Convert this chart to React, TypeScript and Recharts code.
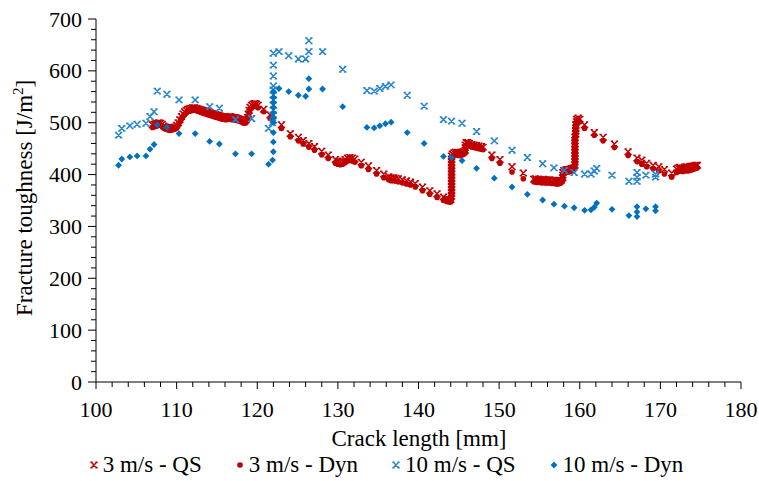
import React from 'react';
import { ScatterChart, Scatter, XAxis, YAxis, Legend } from 'recharts';

const FONT = '"Liberation Serif", "Times New Roman", serif';
const RED = '#C00000';
const BLUE_X = '#2583D2';
const BLUE_D = '#0070C0';

// [crack length mm, fracture toughness J/m2]
const qs3: [number, number][] = [
  [107.0, 496], [107.2, 497], [107.4, 498], [107.6, 499], [107.8, 500], [108.0, 499], [108.2, 497], [108.4, 494],
  [108.6, 492], [108.8, 491], [109.0, 490], [109.2, 490], [109.4, 490], [109.6, 491], [109.8, 492], [110.0, 495],
  [110.2, 500], [110.4, 506], [110.6, 512], [110.8, 517], [111.0, 521], [111.2, 524], [111.4, 526], [111.6, 527],
  [111.8, 528], [112.0, 529], [112.2, 529], [112.4, 528], [112.6, 527], [112.8, 526], [113.0, 525], [113.2, 524],
  [113.4, 523], [113.6, 522], [113.8, 521], [114.0, 520], [114.2, 519], [114.4, 518], [114.6, 517], [114.8, 516],
  [115.0, 515], [115.2, 514], [115.4, 513], [115.6, 512], [115.8, 511], [116.0, 511], [116.2, 511], [116.4, 511],
  [116.6, 512], [116.8, 511], [117.0, 510], [117.2, 510], [117.4, 509], [117.6, 508], [117.8, 507], [118.0, 506],
  [118.2, 505], [118.4, 504], [118.6, 505], [118.8, 510], [118.9, 517], [119.0, 524], [119.1, 530], [119.3, 534],
  [119.5, 536], [119.7, 537], [119.9, 536], [120.1, 534],
  [120.8, 526], [121.6, 515], [123.0, 496], [124.1, 479], [125.1, 472], [125.7, 466], [126.4, 460], [127.1, 454],
  [128.0, 445], [128.8, 438], [129.7, 429], [130.0, 426], [130.3, 425], [130.6, 426], [130.9, 429], [131.2, 432],
  [131.5, 433], [131.8, 432], [132.1, 430], [132.9, 424], [133.8, 417], [134.8, 408], [135.7, 401], [136.3, 396],
  [136.6, 394], [136.9, 394], [137.2, 393], [137.5, 392], [138.0, 390], [138.5, 388], [139.0, 386], [139.6, 383],
  [140.5, 376], [141.4, 369], [142.3, 363], [143.1, 357], [143.5, 353], [143.8, 352], [144.0, 352],
  [144.1, 358], [144.1, 364], [144.1, 370], [144.1, 376], [144.1, 382], [144.1, 388], [144.1, 394], [144.1, 400],
  [144.1, 406], [144.1, 412], [144.1, 418], [144.1, 424], [144.1, 430], [144.1, 436], [144.2, 440], [144.4, 442],
  [144.6, 443], [144.8, 443], [145.0, 442], [145.2, 442], [145.4, 443], [145.6, 444], [145.8, 447], [145.8, 452],
  [145.8, 457], [145.9, 462], [146.1, 462], [146.3, 460], [146.6, 458], [146.9, 457], [147.2, 456], [147.5, 455],
  [147.8, 454], [148.0, 453],
  [149.1, 438], [150.1, 429], [151.6, 415], [153.0, 403],
  [154.3, 391], [154.5, 392], [154.7, 390], [154.9, 391], [155.1, 390], [155.3, 389], [155.5, 391], [155.7, 389],
  [155.9, 390], [156.1, 389], [156.3, 390], [156.5, 388], [156.7, 389], [156.9, 388], [157.1, 387], [157.3, 388],
  [157.5, 388], [157.7, 389], [157.9, 394], [157.9, 399], [157.9, 404], [158.0, 408], [158.2, 409], [158.4, 410],
  [158.6, 410], [158.8, 411], [159.0, 412], [159.2, 413], [159.4, 418], [159.4, 424], [159.4, 430], [159.4, 436],
  [159.4, 442], [159.4, 448], [159.4, 454], [159.4, 460], [159.4, 466], [159.4, 472], [159.5, 478], [159.5, 484],
  [159.5, 490], [159.5, 496], [159.6, 502], [159.6, 507], [159.8, 509], [160.0, 507],
  [160.6, 496], [161.8, 481], [162.9, 472], [164.3, 459], [166.0, 444], [167.1, 432], [167.7, 428], [168.3, 422],
  [169.1, 418], [169.8, 415], [170.5, 410], [171.4, 403],
  [172.0, 411], [172.2, 413], [172.4, 414], [172.6, 413], [172.8, 412], [173.0, 414], [173.2, 415], [173.4, 414],
  [173.6, 415], [173.8, 416], [174.0, 416], [174.2, 417], [174.4, 418], [174.6, 418],
];

const dyn3: [number, number][] = [
  [107.0, 491], [107.2, 492], [107.4, 493], [107.6, 494], [107.8, 495], [108.0, 495], [108.2, 493], [108.4, 490],
  [108.6, 488], [108.8, 487], [109.0, 486], [109.2, 485], [109.4, 486], [109.6, 487], [109.8, 488], [110.0, 490],
  [110.2, 495], [110.4, 501], [110.6, 507], [110.8, 512], [111.0, 516], [111.2, 519], [111.4, 521], [111.6, 522],
  [111.8, 523], [112.0, 524], [112.2, 525], [112.4, 524], [112.6, 522], [112.8, 521], [113.0, 520], [113.2, 519],
  [113.4, 518], [113.6, 517], [113.8, 516], [114.0, 515], [114.2, 514], [114.4, 513], [114.6, 512], [114.8, 511],
  [115.0, 510], [115.2, 509], [115.4, 508], [115.6, 507], [115.8, 507], [116.0, 506], [116.2, 506], [116.4, 507],
  [116.6, 507], [116.8, 506], [117.0, 506], [117.2, 505], [117.4, 505], [117.6, 504], [117.8, 503], [118.0, 502],
  [118.2, 500], [118.4, 499], [118.6, 500], [118.8, 505], [118.9, 512], [119.0, 519], [119.1, 525], [119.3, 529],
  [119.5, 531], [119.7, 532], [119.9, 531], [120.1, 529],
  [120.8, 521], [121.6, 508], [123.0, 489], [124.1, 473], [125.1, 465], [125.7, 459], [126.4, 453], [127.1, 447],
  [128.0, 438], [128.8, 431], [129.7, 422], [130.0, 420], [130.3, 419], [130.6, 420], [130.9, 423], [131.2, 426],
  [131.5, 427], [131.8, 426], [132.1, 424], [132.9, 417], [133.8, 410], [134.8, 401], [135.7, 394], [136.3, 390],
  [136.6, 388], [136.9, 388], [137.2, 387], [137.5, 386], [138.0, 384], [138.5, 382], [139.0, 380], [139.6, 376],
  [140.5, 369], [141.4, 362], [142.3, 356], [143.1, 350], [143.5, 348], [143.8, 347], [144.0, 347],
  [144.1, 353], [144.1, 359], [144.1, 365], [144.1, 371], [144.1, 377], [144.1, 383], [144.1, 389], [144.1, 395],
  [144.1, 401], [144.1, 407], [144.1, 413], [144.1, 419], [144.1, 425], [144.1, 431], [144.2, 435], [144.4, 437],
  [144.6, 438], [144.8, 438], [145.0, 437], [145.2, 437], [145.4, 438], [145.6, 439], [145.8, 442], [145.8, 447],
  [145.8, 452], [145.9, 457], [146.1, 457], [146.3, 455], [146.6, 453], [146.9, 452], [147.2, 451], [147.5, 450],
  [147.8, 449], [148.0, 448],
  [149.1, 431], [150.1, 422], [151.6, 405], [153.0, 392],
  [154.3, 386], [154.5, 386], [154.7, 385], [154.9, 385], [155.1, 385], [155.3, 384], [155.5, 385], [155.7, 384],
  [155.9, 384], [156.1, 384], [156.3, 384], [156.5, 383], [156.7, 383], [156.9, 383], [157.1, 382], [157.3, 382],
  [157.5, 383], [157.7, 384], [157.9, 389], [157.9, 394], [157.9, 399], [158.0, 403], [158.2, 404], [158.4, 405],
  [158.6, 405], [158.8, 406], [159.0, 407], [159.2, 408], [159.4, 413], [159.4, 419], [159.4, 425], [159.4, 431],
  [159.4, 437], [159.4, 443], [159.4, 449], [159.4, 455], [159.4, 461], [159.4, 467], [159.5, 473], [159.5, 479],
  [159.5, 485], [159.5, 491], [159.6, 497], [159.6, 502], [159.8, 504], [160.0, 502],
  [160.6, 489], [161.8, 476], [162.9, 465], [164.3, 452], [166.0, 437], [167.1, 425], [167.7, 420], [168.3, 415],
  [169.1, 411], [169.8, 407], [170.5, 401], [171.4, 395],
  [172.0, 404], [172.2, 406], [172.4, 407], [172.6, 407], [172.8, 406], [173.0, 407], [173.2, 408], [173.4, 407],
  [173.6, 408], [173.8, 409], [174.0, 410], [174.2, 411], [174.4, 412], [174.6, 413],
];

const qs10: [number, number][] = [
  [102.8, 476], [103.2, 489], [104.2, 494], [105.1, 497], [106.2, 499], [106.7, 512], [107.2, 521], [107.6, 561],
  [108.8, 555], [110.3, 544], [112.3, 544], [114.1, 531], [115.3, 528], [117.3, 506], [119.3, 508], [121.4, 489],
  [121.9, 500], [122.0, 505], [122.0, 515], [122.0, 524], [122.0, 534], [122.0, 544], [122.0, 553], [122.0, 563],
  [122.0, 571], [122.0, 590], [122.0, 611], [122.0, 634], [122.7, 637], [123.9, 629], [125.1, 623], [126.0, 623],
  [126.4, 637], [126.4, 658], [128.1, 637], [130.6, 603], [133.6, 562], [134.5, 561], [135.2, 566], [135.9, 570],
  [136.6, 573], [138.6, 553], [140.7, 532], [143.1, 506], [144.1, 503], [145.4, 499], [147.2, 483], [149.4, 465],
  [151.6, 447], [153.5, 433], [155.4, 421], [156.8, 413], [158.1, 408], [159.3, 404], [160.6, 401], [161.4, 401],
  [161.8, 407], [162.1, 412], [164.0, 399], [166.1, 387], [167.1, 404], [167.1, 395], [167.1, 387], [168.2, 399],
  [169.4, 401], [169.4, 395],
];

const dyn10: [number, number][] = [
  [102.8, 418], [103.2, 430], [104.2, 434], [105.1, 436], [106.2, 436], [106.7, 449], [107.2, 458], [107.6, 496],
  [108.8, 491], [110.3, 479], [112.3, 479], [114.1, 464], [115.3, 459], [117.3, 440], [119.3, 440], [121.4, 420],
  [121.9, 428], [122.0, 444], [122.0, 463], [122.0, 481], [122.0, 500], [122.0, 510], [122.0, 519], [122.0, 530],
  [122.0, 539], [122.0, 549], [122.0, 560], [122.7, 566], [123.9, 560], [125.1, 553], [126.0, 551], [126.4, 565],
  [126.4, 585], [128.1, 565], [130.6, 531], [133.6, 491], [134.5, 490], [135.2, 494], [135.9, 498], [136.6, 501],
  [138.6, 481], [140.7, 460], [143.1, 435], [144.1, 433], [145.4, 427], [147.2, 412], [149.4, 393], [151.6, 376],
  [153.5, 362], [155.4, 351], [156.8, 343], [158.1, 339], [159.3, 336], [160.6, 331], [161.4, 332], [161.8, 337],
  [162.1, 345], [164.0, 333], [166.1, 321], [167.1, 338], [167.1, 328], [167.1, 319], [168.2, 334], [169.4, 338],
  [169.4, 330],
];

const seriesNames = ['3 m/s - QS', '3 m/s - Dyn', '10 m/s - QS', '10 m/s - Dyn'];
const xMajor = [100, 110, 120, 130, 140, 150, 160, 170, 180];
const yMajor = [0, 100, 200, 300, 400, 500, 600, 700];

// minor ticks every 2 mm / 20 J/m2 between the labelled ones
const xTicks = Array.from({ length: 41 }, (_, i) => 100 + i * 2);
const yTicks = Array.from({ length: 36 }, (_, i) => i * 20);

const toPoints = (arr: [number, number][]) => arr.map(([x, y]) => ({ x, y }));

function XMark({ cx, cy, color }: { cx: number; cy: number; color: string }) {
  const s = 2.7;
  const d =
    `M${cx - s},${cy - s}L${cx + s},${cy + s}M${cx + s},${cy - s}L${cx - s},${cy + s}` +
    `M${cx - s - 1},${cy - s}H${cx - s + 1.3}M${cx + s - 1.3},${cy - s}H${cx + s + 1}` +
    `M${cx - s - 1},${cy + s}H${cx - s + 1.3}M${cx + s - 1.3},${cy + s}H${cx + s + 1}`;
  return <path d={d} stroke={color} strokeWidth={1.5} fill="none" />;
}

function Dot({ cx, cy, color }: { cx: number; cy: number; color: string }) {
  return <circle cx={cx} cy={cy} r={2.8} fill={color} />;
}

function Diamond({ cx, cy, color }: { cx: number; cy: number; color: string }) {
  const s = 3.4;
  return <path d={`M${cx},${cy - s}L${cx + s},${cy}L${cx},${cy + s}L${cx - s},${cy}Z`} fill={color} />;
}

const XTick = (props: any) => {
  const { x, y, payload } = props;
  const major = xMajor.includes(payload.value);
  return (
    <g>
      <line x1={x} x2={x} y1={y} y2={y + (major ? 7 : 5)} stroke="#000" />
      {major && (
        <text x={x} y={y + 35} textAnchor="middle" fontFamily={FONT} fontSize={22} fill="#000">
          {payload.value}
        </text>
      )}
    </g>
  );
};

const YTick = (props: any) => {
  const { x, y, payload } = props;
  const major = yMajor.includes(payload.value);
  return (
    <g>
      <line x1={x - (major ? 8 : 5)} x2={x} y1={y} y2={y} stroke="#000" />
      {major && (
        <text x={x - 14} y={y + 7.5} textAnchor="end" fontFamily={FONT} fontSize={22} fill="#000">
          {payload.value}
        </text>
      )}
    </g>
  );
};

const markers = [
  (c: number) => <XMark cx={c} cy={12} color={RED} />,
  (c: number) => <Dot cx={c} cy={12} color={RED} />,
  (c: number) => <XMark cx={c} cy={12} color={BLUE_X} />,
  (c: number) => <Diamond cx={c} cy={12} color={BLUE_D} />,
];

const LegendContent = () => (
  <div
    style={{
      height: 24,
      display: 'flex',
      justifyContent: 'center',
      alignItems: 'center',
      fontFamily: FONT,
      fontSize: 23,
      color: '#000',
      gap: 33,
      paddingLeft: 13,
      whiteSpace: 'nowrap',
    }}
  >
    {seriesNames.map((name, i) => (
      <div key={name} style={{ display: 'flex', alignItems: 'center', gap: 4 }}>
        <svg width={10} height={24}>{markers[i](5)}</svg>
        <span>{name}</span>
      </div>
    ))}
  </div>
);

export default function App() {
  return (
    <div style={{ position: 'absolute', left: 0, top: 0, width: 759, height: 481, background: '#fff' }}>
      <ScatterChart width={759} height={481} margin={{ top: 19, right: 18, bottom: 4, left: 0 }}>
        <XAxis
          type="number"
          dataKey="x"
          domain={[100, 180]}
          ticks={xTicks}
          interval={0}
          tickSize={0}
          tickMargin={0}
          tickLine={false}
          tick={<XTick />}
          axisLine={{ stroke: '#000' }}
          height={71}
          label={{
            content: () => (
              <text x={419} y={446} textAnchor="middle" fontFamily={FONT} fontSize={23} fill="#000">
                Crack length [mm]
              </text>
            ),
          }}
        />
        <YAxis
          type="number"
          dataKey="y"
          domain={[0, 700]}
          ticks={yTicks}
          interval={0}
          tickSize={0}
          tickMargin={0}
          tickLine={false}
          tick={<YTick />}
          axisLine={{ stroke: '#000' }}
          width={96}
          label={{
            content: () => (
              <text transform="translate(32,316) rotate(-90)" textAnchor="start" fontFamily={FONT} fontSize={23} fill="#000">
                Fracture toughness [J/m<tspan dy={-9} fontSize={15}>2</tspan><tspan dy={9}>]</tspan>
              </text>
            ),
          }}
        />
        <Legend verticalAlign="bottom" content={<LegendContent />} wrapperStyle={{ left: 0, width: 759 }} />
        <Scatter
          name={seriesNames[0]}
          data={toPoints(qs3)}
          isAnimationActive={false}
          shape={(p: any) => <XMark cx={p.cx} cy={p.cy} color={RED} />}
        />
        <Scatter
          name={seriesNames[1]}
          data={toPoints(dyn3)}
          isAnimationActive={false}
          shape={(p: any) => <Dot cx={p.cx} cy={p.cy} color={RED} />}
        />
        <Scatter
          name={seriesNames[2]}
          data={toPoints(qs10)}
          isAnimationActive={false}
          shape={(p: any) => <XMark cx={p.cx} cy={p.cy} color={BLUE_X} />}
        />
        <Scatter
          name={seriesNames[3]}
          data={toPoints(dyn10)}
          isAnimationActive={false}
          shape={(p: any) => <Diamond cx={p.cx} cy={p.cy} color={BLUE_D} />}
        />
      </ScatterChart>
    </div>
  );
}
